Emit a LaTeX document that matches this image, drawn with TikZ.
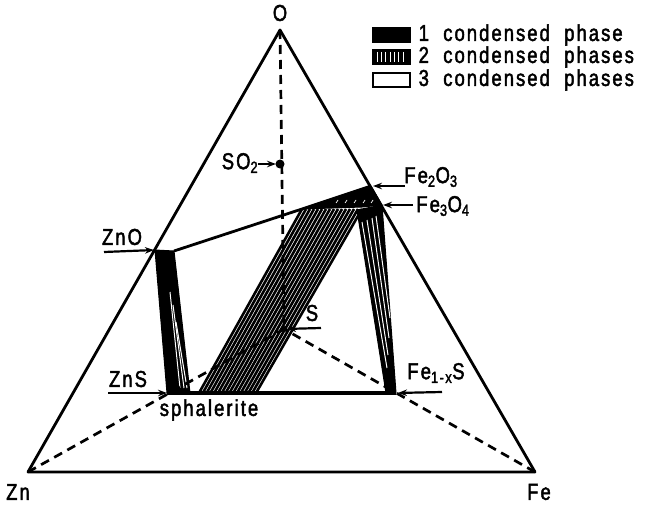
\documentclass[tikz,border=0pt]{standalone}
\usepackage{fontspec}
\setmainfont{Liberation Sans}[FakeStretch=0.8,LetterSpace=9,FakeBold=2,WordSpace=2]
\usetikzlibrary{arrows.meta,positioning}
\tikzset{
  pdedge/.style={draw=black,line width=2.8pt,line join=round},
  pdjoin/.style={draw=black,line width=2.7pt,dash pattern=on 9pt off 6pt},
  pdtie/.style={draw=black,line width=2.6pt},
  pdgap/.style={draw=white,line width=1pt},
  pdsolid/.style={fill=black,draw=black,line width=1pt,line join=round},
  pdlabel/.style={inner sep=0pt,font=\fontsize{23}{25}\selectfont},
  pdptr/.style={-{Stealth[length=9pt,width=6.5pt]},draw=black,line width=2.2pt},
  pdkey/.style={draw=black,line width=2pt,minimum width=37pt,minimum height=14pt,inner sep=0pt}
}
\begin{document}
\begin{tikzpicture}[x=1pt,y=-1pt]
  \useasboundingbox (0,0) rectangle (650,508);
  % corners and phase points
  \coordinate (O) at (280,30);
  \coordinate (Zn) at (28,472);
  \coordinate (Fe) at (535,472);
  \coordinate (ZnO) at (155,250);
  \coordinate (ZnOb) at (174,251);
  \coordinate (ZnS) at (167,393);
  \coordinate (ZnSb) at (190,393);
  \coordinate (sphL) at (199,393);
  \coordinate (sphR) at (256,393);
  \coordinate (spL) at (302,209);
  \coordinate (spR) at (362,207);
  \coordinate (Fe2O3) at (371,186);
  \coordinate (Fe3O4) at (382,205);
  \coordinate (rbL) at (357,210);
  \coordinate (FeS) at (386,393);
  \coordinate (FeSb) at (396,393);
  \coordinate (S) at (284,329);
  \coordinate (SO2) at (280,164);
  % triangle
  \draw[pdedge] (O) -- (Zn) -- (Fe) -- cycle;
  % two-phase fields
  \fill[pdsolid] (ZnO) -- (ZnOb) -- (ZnSb) -- (ZnS) -- cycle;
  \foreach \i in {0,...,15}
    \draw[pdtie] ({199+\i*57/15},393) -- ({302+\i*60/15},209);
  \fill[pdsolid] (rbL) -- (Fe3O4) -- (FeSb) -- (FeS) -- cycle;
  \fill[pdsolid] (spL) -- (Fe2O3) -- (Fe3O4) -- (spR) -- cycle;
  \draw[pdgap] (170,292) -- (180,388);
  \draw[pdgap] (173,305) -- (184,388);
  \draw[pdgap] (176,322) -- (187,388);
  \draw[pdgap] (362,222) -- (387,368);
  \draw[pdgap] (367,220) -- (388,355);
  \draw[pdgap] (372,218) -- (389,338);
  \draw[pdgap] (376,216) -- (390,318);
  \foreach \x in {336,345,354,363,371}
    \draw[pdgap,line width=0.7pt] (\x,203) -- ({\x+2},200);
  % boundaries
  \draw[pdedge] (ZnOb) -- (spL) -- (Fe2O3);
  \draw[pdedge,line width=3.4pt] (ZnS) -- (FeSb);
  % joins
  \draw[pdjoin] (O) -- (S);
  \draw[pdjoin] (Zn) -- (S);
  \draw[pdjoin] (Fe) -- (S);
  \fill (SO2) circle (4.5pt);
  \fill (S) circle (3pt);
  % labels
  \node[pdlabel] (lO) at (280,13) {O};
  \node[pdlabel] (lZn) at (18,492) {Zn};
  \node[pdlabel] (lFe) at (539,492) {Fe};
  \node[pdlabel] (lZnO) at (122,237) {ZnO};
  \node[pdlabel] (lZnS) at (128,379) {ZnS};
  \node[pdlabel] (lsph) at (209,410) {sphalerite};
  \node[pdlabel] (lSO2) at (240,163) {SO\textsubscript{2}};
  \node[pdlabel] (lS) at (312,313) {S};
  \node[pdlabel] (lFe2O3) at (431,177) {Fe\textsubscript{2}O\textsubscript{3}};
  \node[pdlabel] (lFe3O4) at (443,206) {Fe\textsubscript{3}O\textsubscript{4}};
  \node[pdlabel] (lFeS) at (436,373) {Fe\textsubscript{1-x}S};
  \coordinate (tZnO) at (104,252);
  \coordinate (tZnS) at (108,393);
  \coordinate (tSO2) at (258,164);
  \coordinate (tS) at (321,328);
  \coordinate (tFe2O3) at (405,186);
  \coordinate (tFe3O4) at (413,205);
  \coordinate (tFeS) at (442,392);
  \draw[pdptr,shorten >=1pt] (tZnO) -- (ZnO);
  \draw[pdptr] (tZnS) -- (ZnS);
  \draw[pdptr,shorten >=4pt] (tSO2) -- (SO2);
  \draw[pdptr,shorten >=3pt] (tS) -- (S);
  \draw[pdptr,shorten >=2pt] (tFe2O3) -- (Fe2O3);
  \draw[pdptr,shorten >=1pt] (tFe3O4) -- (Fe3O4);
  \draw[pdptr,shorten >=2pt] (tFeS) -- (FeSb);
  % key
  \node[pdkey,fill=black] (k1) at (391,35) {};
  \node[pdkey,fill=black] (k2) at (391,57) {};
  \foreach \x in {377,381,385,390,394,398,403}
    \draw[pdgap] (\x,52) -- (\x,62);
  \node[pdkey,fill=white] (k3) at (391,80) {};
  \node[pdlabel,anchor=west,right=8pt of k1] (t1) {1 condensed phase};
  \node[pdlabel,anchor=west,right=8pt of k2] (t2) {2 condensed phases};
  \node[pdlabel,anchor=west,right=8pt of k3] (t3) {3 condensed phases};
\end{tikzpicture}
\end{document}
